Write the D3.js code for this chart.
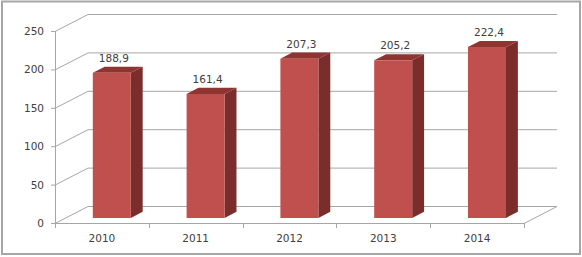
<!DOCTYPE html>
<html><head><meta charset="utf-8">
<script src="https://cdn.jsdelivr.net/npm/d3@7/dist/d3.min.js"></script>
<style>
html,body{margin:0;padding:0;background:#fff;}
svg{display:block;}
text{font-family:"DejaVu Sans",sans-serif;fill:#404040;}
</style></head>
<body>
<script>
const years = ["2010","2011","2012","2013","2014"];
const values = [188.9, 161.4, 207.3, 205.2, 222.4];
const labels = ["188,9","161,4","207,3","205,2","222,4"];
const yTicks = [0, 50, 100, 150, 200, 250];

const W = 582, H = 257;
const svg = d3.select("body").append("svg").attr("width", W).attr("height", H);

// outer frame
svg.append("rect").attr("x",2).attr("y",1.5).attr("width",578).attr("height",252.5)
  .attr("fill","#fff").attr("stroke","#a6a6a6").attr("stroke-width",2);

const x = d3.scaleBand().domain(years).range([55, 524]).paddingInner(0).paddingOuter(0);
const y = d3.scaleLinear().domain([0, 250]).range([223, 31]);
// depth projection
const depth = d3.scaleLinear().domain([0,1]).range([0,1]);
const DX = 33, DY = -17;
const P = (px, py, z) => [px + DX*depth(z), py + DY*depth(z)];

const grid = svg.append("g").attr("stroke","#a6a6a6").attr("stroke-width",1).attr("fill","none");
// back wall gridlines and side wall diagonals
yTicks.forEach(t => {
  const a = P(55, y(t), 0), b = P(55, y(t), 1), c = P(524, y(t), 1);
  grid.append("path").attr("d", `M${a[0]},${a[1]+0.5}L${b[0]},${b[1]+0.5}L${c[0]},${c[1]+0.5}`);
});
// floor: front edge and right edge
const f1 = P(55, y(0), 0), f2 = P(524, y(0), 0), f3 = P(524, y(0), 1);
grid.append("path").attr("d", `M${f1[0]},${f1[1]+0.5}L${f2[0]},${f2[1]+0.5}L${f3[0]},${f3[1]+0.5}`);
// vertical axis line
grid.append("line").attr("x1",55.5).attr("x2",55.5).attr("y1",y(250)).attr("y2",y(0));
// y ticks
yTicks.forEach(t => {
  grid.append("line").attr("x1",51).attr("x2",55).attr("y1",y(t)+0.5).attr("y2",y(t)+0.5);
});
// x ticks
x.domain().concat(["end"]).forEach((d,i) => {
  const px = 55 + i*x.bandwidth();
  grid.append("line").attr("x1",Math.round(px)+0.5).attr("x2",Math.round(px)+0.5).attr("y1",223).attr("y2",228);
});

// y labels
svg.append("g").selectAll("text").data(yTicks).join("text")
  .attr("x",44).attr("y",d=>y(d)+4).attr("text-anchor","end")
  .attr("font-size","10.5px").text(d=>d);

// x labels
svg.append("g").selectAll("text").data(years).join("text")
  .attr("x",d=>x(d)+x.bandwidth()/2).attr("y",242).attr("text-anchor","middle")
  .attr("font-size","10.5px").text(d=>d);

// bars
const z0 = 0.3, z1 = 0.66;
const bw = 38;
const bars = svg.append("g");
years.forEach((yr,i) => {
  const cx = x(yr) + x.bandwidth()/2;
  const xl = cx - bw/2, xr = cx + bw/2;
  const yt = y(values[i]), yb = y(0);
  const fl_t = P(xl, yt, z0), fr_t = P(xr, yt, z0), fr_b = P(xr, yb, z0), fl_b = P(xl, yb, z0);
  const bl_t = P(xl, yt, z1), br_t = P(xr, yt, z1), br_b = P(xr, yb, z1);
  // side
  bars.append("path").attr("d", `M${fr_t}L${br_t}L${br_b}L${fr_b}Z`).attr("fill","#7a2d2b");
  // top
  bars.append("path").attr("d", `M${fl_t}L${bl_t}L${br_t}L${fr_t}Z`).attr("fill","#8e3431");
  // front
  bars.append("path").attr("d", `M${fl_t}L${fr_t}L${fr_b}L${fl_b}Z`).attr("fill","#c0504d");
  // label
  svg.append("text").attr("x", fl_t[0] + bw/2 + 2).attr("y", bl_t[1] - 5)
    .attr("text-anchor","middle").attr("font-size","10.5px").text(labels[i]);
});
</script>
</body></html>
